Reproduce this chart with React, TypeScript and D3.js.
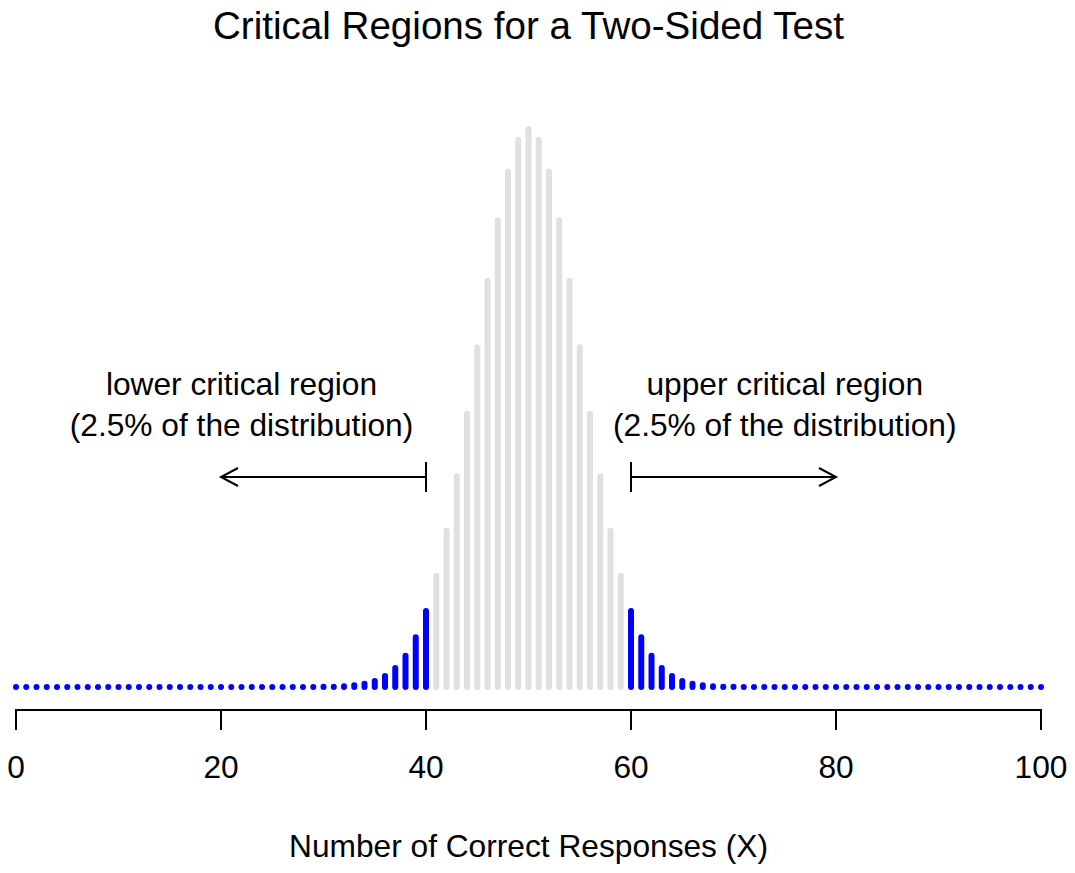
import { useEffect, useRef } from 'react';
import * as d3 from 'd3';

// X = number of correct responses (0..100)
const xValues: number[] = d3.range(0, 101);
// probability heights for X = 0..29 (too small to see; drawn as dots on the baseline)
const lowTail: number[] = new Array(30).fill(0);
// X = 30..50
const leftHalf: number[] = [
  0.000023, 0.000052, 0.000113, 0.000233, 0.000458, 0.000864, 0.00156,
  0.0027, 0.00447, 0.00711, 0.01084, 0.01587, 0.02229, 0.03007, 0.03895,
  0.04847, 0.05796, 0.06659, 0.07353, 0.07803, 0.07959,
];
// X = 51..70
const rightHalf: number[] = [
  0.07803, 0.07353, 0.06659, 0.05796, 0.04847, 0.03895, 0.03007, 0.02229,
  0.01587, 0.01084, 0.00711, 0.00447, 0.0027, 0.00156, 0.000864, 0.000458,
  0.000233, 0.000113, 0.000052, 0.000023,
];
// X = 71..100
const highTail: number[] = new Array(30).fill(0);
const probs: number[] = [...lowTail, ...leftHalf, ...rightHalf, ...highTail];

const lowerCritical = 40;
const upperCritical = 60;
const xTicks: number[] = [0, 20, 40, 60, 80, 100];

const title = 'Critical Regions for a Two-Sided Test';
const xLabel = 'Number of Correct Responses (X)';
const lowerText = ['lower critical region', '(2.5% of the distribution)'];
const upperText = ['upper critical region', '(2.5% of the distribution)'];

const width = 1075;
const height = 873;
const font = '"Liberation Sans", Arial, sans-serif';
const textSize = 31.7;

export default function App() {
  const svgRef = useRef<SVGSVGElement>(null);

  useEffect(() => {
    if (!svgRef.current) return;
    const svg = d3.select(svgRef.current);
    svg.selectAll('*').remove();

    const x = d3.scaleLinear().domain([0, 100]).range([16, 1041]);
    const y = d3.scaleLinear().domain([0, 0.0796]).range([687, 129]);

    svg.append('rect')
      .attr('width', width)
      .attr('height', height)
      .attr('fill', '#ffffff');

    // bars
    svg.append('g')
      .selectAll('line')
      .data(xValues)
      .join('line')
      .attr('x1', d => x(d))
      .attr('x2', d => x(d))
      .attr('y1', y(0))
      .attr('y2', d => y(probs[d]))
      .attr('stroke', d => (d <= lowerCritical || d >= upperCritical ? '#0000ff' : '#e0e0e0'))
      .attr('stroke-width', 6)
      .attr('stroke-linecap', 'round');

    // x axis
    const axis = svg.append('g');
    axis.append('path')
      .attr('d', `M${x(0)},730V710H${x(100)}V730`)
      .attr('fill', 'none')
      .attr('stroke', '#000')
      .attr('stroke-width', 2);
    axis.selectAll('line.tick')
      .data(xTicks)
      .join('line')
      .attr('class', 'tick')
      .attr('x1', d => x(d))
      .attr('x2', d => x(d))
      .attr('y1', 710)
      .attr('y2', 730)
      .attr('stroke', '#000')
      .attr('stroke-width', 2);
    axis.selectAll('text')
      .data(xTicks)
      .join('text')
      .attr('x', d => x(d))
      .attr('y', 778)
      .attr('text-anchor', 'middle')
      .attr('font-family', font)
      .attr('font-size', textSize)
      .text(d => d);

    svg.append('text')
      .attr('x', x(50))
      .attr('y', 857)
      .attr('text-anchor', 'middle')
      .attr('font-family', font)
      .attr('font-size', textSize)
      .text(xLabel);

    svg.append('text')
      .attr('x', x(50))
      .attr('y', 39)
      .attr('text-anchor', 'middle')
      .attr('font-family', font)
      .attr('font-size', 38.6)
      .text(title);

    // annotations
    const notes = [
      { cx: 22, lines: lowerText, from: lowerCritical, to: 20 },
      { cx: 75, lines: upperText, from: upperCritical, to: 80 },
    ];
    notes.forEach(n => {
      n.lines.forEach((t, i) => {
        svg.append('text')
          .attr('x', x(n.cx))
          .attr('y', 395 + i * 41)
          .attr('text-anchor', 'middle')
          .attr('font-family', font)
          .attr('font-size', textSize)
          .text(t);
      });
      const ay = 477;
      const x0 = x(n.from);
      const x1 = x(n.to);
      const dir = x1 > x0 ? -1 : 1;
      svg.append('path')
        .attr('d', `M${x0},${ay - 15}V${ay + 15}M${x0},${ay}H${x1}M${x1 + dir * 17},${ay - 9}L${x1},${ay}L${x1 + dir * 17},${ay + 9}`)
        .attr('fill', 'none')
        .attr('stroke', '#000')
        .attr('stroke-width', 2);
    });
  }, []);

  return (
    <svg
      ref={svgRef}
      width={width}
      height={height}
      style={{ position: 'absolute', left: 0, top: 0 }}
    />
  );
}
